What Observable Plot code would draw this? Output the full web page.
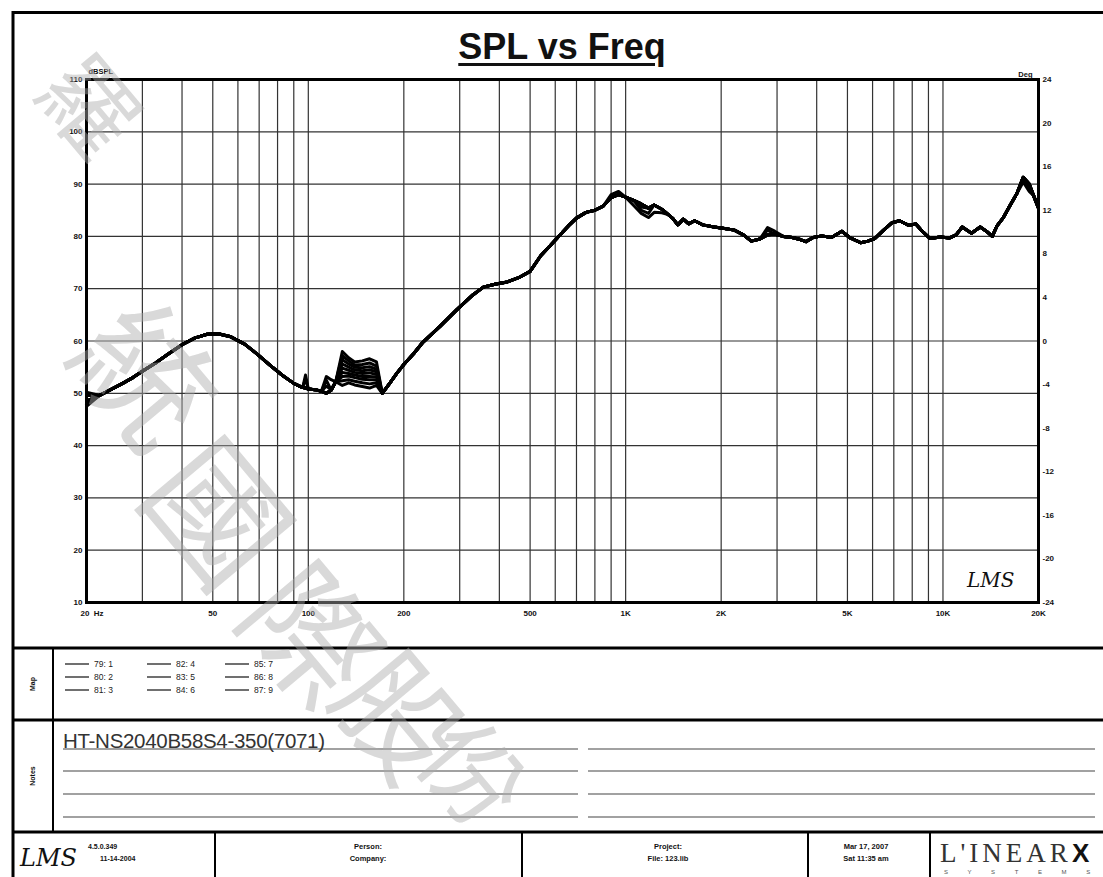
<!DOCTYPE html>
<html><head><meta charset="utf-8">
<script src="https://cdn.jsdelivr.net/npm/d3@7"></script>
<script src="https://cdn.jsdelivr.net/npm/@observablehq/plot@0.6"></script>
<style>
body{margin:0;background:#fff;font-family:"Liberation Sans",Arial,sans-serif;}
#page{position:relative;width:1103px;height:877px;overflow:hidden;background:#fff}
#page > *{position:absolute;left:0;top:0}
#title{left:0;top:26px;width:1124px;text-align:center;font:bold 36px "Liberation Sans",Arial,sans-serif;text-decoration:underline;text-decoration-thickness:3px;text-underline-offset:4px;color:#111}
</style></head>
<body><div id="page"><div id="plot"></div><svg id="deco" width="1103" height="877"></svg><div id="title">SPL vs Freq</div><svg id="wm" width="1103" height="877"></svg></div>
<script>
// ---------------- data ----------------
const freq = [20,22,24,26,28,30,33,36,40,44,48,52,57,63,69,76,83,90,96,98,100,105,110,114,118,122,128,134,140,148,156,164,171,180,190,200,215,230,260,294,330,356,390,424,460,500,540,580,620,660,700,750,800,850,900,950,1000,1060,1120,1180,1230,1300,1360,1410,1460,1520,1580,1650,1750,1900,2050,2200,2350,2490,2650,2800,2950,3140,3350,3550,3700,3900,4150,4450,4800,5100,5500,5800,6100,6500,6900,7300,7800,8200,8600,9100,9800,10500,11000,11500,12300,13100,13700,14300,14800,15500,16300,17100,17900,18700,19300,20000];
const splBase = [48.5,49.6,50.8,51.9,53.0,54.2,55.8,57.4,59.3,60.6,61.3,61.4,60.8,59.4,57.5,55.3,53.4,51.9,51.1,51.0,50.8,50.7,50.4,50.0,50.6,52.2,54.8,54.4,54.0,53.8,53.9,53.6,50.0,51.8,53.8,55.5,57.6,59.8,62.8,66.0,68.8,70.3,70.9,71.3,72.1,73.3,76.3,78.3,80.2,82.0,83.5,84.6,85.0,85.8,87.4,88.0,87.5,86.9,86.2,85.4,86.0,85.2,84.2,83.4,82.2,83.3,82.4,83.0,82.2,81.8,81.5,81.2,80.3,79.1,79.5,80.3,80.4,80.0,79.8,79.4,79.0,79.8,80.1,79.8,81.0,79.7,78.8,79.1,79.6,81.2,82.6,83.0,82.1,82.4,81.0,79.6,79.9,79.7,80.3,81.8,80.6,81.8,81.0,80.0,82.0,83.6,86.0,88.2,91.3,90.0,87.8,85.4];
const seriesNames = ["79: 1","80: 2","81: 3","82: 4","83: 5","84: 6","85: 7","86: 8","87: 9"];
// points where a measurement visibly departs from the common trace: [Hz, dBSPL]
const seriesPoints = {
  "79: 1": [[20,50.2],[98,53.5],[114,53.2],[118,52.6],[128,58.0],[134,56.8],[140,56.0],[148,56.2],[156,56.6],[164,56.0],[900,88.0],[950,88.6],[2800,81.7],[2950,81.0]],
  "80: 2": [[20,49.6],[98,52.8],[114,52.5],[128,57.2],[134,56.2],[140,55.4],[148,55.5],[156,55.8],[164,55.2],[2800,81.2]],
  "81: 3": [[114,51.4],[128,56.4],[134,55.6],[140,55.0],[148,54.9],[156,55.1],[164,54.6]],
  "82: 4": [[128,55.6],[134,55.0],[140,54.5],[148,54.3],[156,54.5],[164,54.1]],
  "83: 5": [[128,54.8],[134,54.4],[140,54.0],[148,53.8],[156,53.9],[164,53.6]],
  "84: 6": [[128,54.0],[134,53.8],[140,53.5],[148,53.2],[156,53.2],[164,53.1]],
  "85: 7": [[128,53.2],[134,53.3],[140,53.0],[148,52.7],[156,52.6],[164,52.6],[1120,85.6]],
  "86: 8": [[20,47.9],[128,52.4],[134,52.6],[140,52.3],[148,52.0],[156,51.8],[164,52.0],[1120,85.0],[1180,84.4],[18700,89.2]],
  "87: 9": [[20,47.5],[128,51.5],[134,52.0],[140,51.6],[148,51.3],[156,51.0],[164,51.5],[1060,85.9],[1120,84.4],[1180,83.6],[1230,84.6],[1300,84.5],[17900,90.4],[18700,88.6]]
};
const xTickVals = [20,50,100,200,500,1000,2000,5000,10000,20000];
const xTickLabels = ["20  Hz","50","100","200","500","1K","2K","5K","10K","20K"];
const gridFreqs = [30,40,50,60,70,80,90,100,200,300,400,500,600,700,800,900,1000,2000,3000,4000,5000,6000,7000,8000,9000,10000];
const yTicks = [10,20,30,40,50,60,70,80,90,100,110];
const degTicks = [-24,-20,-16,-12,-8,-4,0,4,8,12,16,20,24];
const footer = {version:"4.5.0.349", build:"11-14-2004", person:"Person:", company:"Company:", project:"Project:", file:"File: 123.lib", date:"Mar 17, 2007", time:"Sat 11:35 am"};
const noteText = "HT-NS2040B58S4-350(7071)";
const watermark = ["羅","統","國","際","股","份"];

// ---------------- build ----------------
const rows = [];
seriesNames.forEach(s => {
  const ov = new Map(seriesPoints[s] || []);
  freq.forEach((f, i) => rows.push({series: s, f, spl: ov.has(f) ? ov.get(f) : splBase[i]}));
});
const degToDb = d => 10 + (d + 24) * 100 / 48;
const xLabels = xTickVals.map((v, i) => ({v, label: xTickLabels[i]}));

const chart = Plot.plot({
  width: 1103, height: 650,
  marginLeft: 86, marginRight: 65, marginTop: 79, marginBottom: 48,
  style: {fontFamily: "'Liberation Sans', Arial, sans-serif", fontSize: "8px", fontWeight: "bold", background: "transparent", color: "#111"},
  x: {type: "log", domain: [20, 20000], axis: null},
  y: {domain: [10, 110], axis: null},
  marks: [
    Plot.ruleY(yTicks, {stroke: "#333", strokeWidth: 1.2}),
    Plot.ruleX(gridFreqs, {stroke: "#333", strokeWidth: 1.2}),
    Plot.line(rows, {x: "f", y: "spl", z: "series", stroke: "#000", strokeWidth: 3, strokeLinejoin: "round"}),
    Plot.frame({stroke: "#000", strokeWidth: 3}),
    Plot.text(xLabels.filter(d => d.v !== 20), {x: "v", text: "label", frameAnchor: "bottom", dy: 13, fontWeight: "bold", fontSize: 8}),
    Plot.text(xLabels.filter(d => d.v === 20), {x: "v", text: "label", frameAnchor: "bottom", dy: 13, dx: -6, textAnchor: "start", fontWeight: "bold", fontSize: 8}),
    Plot.axisY(yTicks, {anchor: "left", label: null, tickSize: 0, tickPadding: 4, fontWeight: "bold"}),
    Plot.axisY(degTicks.map(degToDb), {anchor: "right", label: null, tickSize: 0, tickPadding: 4, tickFormat: v => String(Math.round((v - 10) * 48 / 100 - 24)), fontWeight: "bold"}),
    Plot.text(["dBSPL"], {frameAnchor: "top-left", dy: -11, dx: 2, textAnchor: "start", fontSize: 7.5, fontWeight: "bold"}),
    Plot.text(["Deg"], {frameAnchor: "top-right", dy: -8, dx: -6, textAnchor: "end", fontSize: 7.5, fontWeight: "bold"}),
    Plot.text(["LMS"], {frameAnchor: "bottom-right", dx: -24, dy: -16, textAnchor: "end", fontSize: 20, fontStyle: "italic", fontWeight: "normal", fontFamily: "'DejaVu Serif', serif"})
  ]
});
document.getElementById("plot").appendChild(chart);

// ---------------- decorations: frame, legend, notes, footer ----------------
const svg = d3.select("#deco");
const line = (x1, y1, x2, y2, w, c = "#000") => svg.append("line").attr("x1", x1).attr("y1", y1).attr("x2", x2).attr("y2", y2).attr("stroke", c).attr("stroke-width", w);
line(13, 11, 13, 877, 3);
line(12, 12.5, 1103, 12.5, 3);
[648, 720, 832].forEach(y => line(12, y, 1103, y, 3));
line(53, 648, 53, 832, 2);
[215, 522, 808, 930].forEach(x => line(x, 832, x, 877, 2));
const txt = (x, y, s, o = {}) => svg.append("text").attr("x", x).attr("y", y).text(s)
  .attr("font-family", o.family || "'Liberation Sans', Arial, sans-serif").attr("font-size", o.size || 8)
  .attr("font-weight", o.weight || "normal").attr("text-anchor", o.anchor || "start")
  .attr("fill", o.fill || "#111").attr("transform", o.transform || null).attr("letter-spacing", o.ls || null)
  .attr("font-style", o.style || null);
// legend (Map)
seriesNames.forEach((s, i) => {
  const cx = [65, 147, 225][Math.floor(i / 3)], cy = [664, 677, 690][i % 3];
  line(cx, cy, cx + 24, cy, 1.3, "#222");
  txt(cx + 29, cy + 3, s, {size: 8.5, fill: "#222"});
});
txt(0, 0, "Map", {size: 7, weight: "bold", anchor: "middle", transform: "translate(35,684) rotate(-90)"});
txt(0, 0, "Notes", {size: 7, weight: "bold", anchor: "middle", transform: "translate(35,776) rotate(-90)"});
// notes
txt(63, 748, noteText, {size: 20.5, fill: "#333", ls: "-0.3"});
[749, 771, 794, 817].forEach(y => { line(63, y, 578, y, 1.2, "#444"); line(588, y, 1095, y, 1.2, "#444"); });
// footer
txt(20, 866, "LMS", {size: 24, family: "'DejaVu Serif', serif", style: "italic", fill: "#111"});
txt(88, 849, footer.version, {size: 7, weight: "bold"});
txt(100, 861, footer.build, {size: 7, weight: "bold"});
txt(368, 849, footer.person, {size: 7.5, weight: "bold", anchor: "middle"});
txt(368, 861, footer.company, {size: 7.5, weight: "bold", anchor: "middle"});
txt(668, 849, footer.project, {size: 7.5, weight: "bold", anchor: "middle"});
txt(668, 861, footer.file, {size: 7.5, weight: "bold", anchor: "middle"});
txt(866, 849, footer.date, {size: 7.5, weight: "bold", anchor: "middle"});
txt(866, 861, footer.time, {size: 7.5, weight: "bold", anchor: "middle"});
txt(940, 862, "L'INEAR", {size: 27, family: "'Liberation Serif', serif", fill: "#333", ls: "4"});
txt(1072, 862, "X", {size: 26, weight: "bold", fill: "#111"});
txt(944, 874, "S Y S T E M S", {size: 6, fill: "#555", ls: "9"});

// ---------------- watermark ----------------
const wm = d3.select("#wm");
const wmPos = [[94, 102, 95], [152, 370, 135], [224, 508, 135], [318, 630, 130], [405, 712, 120], [478, 770, 100]];
watermark.forEach((c, i) => {
  wm.append("text").attr("transform", `translate(${wmPos[i][0]},${wmPos[i][1]}) rotate(50)`)
    .attr("text-anchor", "middle").attr("dominant-baseline", "central")
    .attr("font-family", "'Noto Sans CJK TC', sans-serif").attr("font-size", wmPos[i][2])
    .attr("fill", "#aaa").attr("fill-opacity", 0.45).text(c);
});
</script></body></html>
